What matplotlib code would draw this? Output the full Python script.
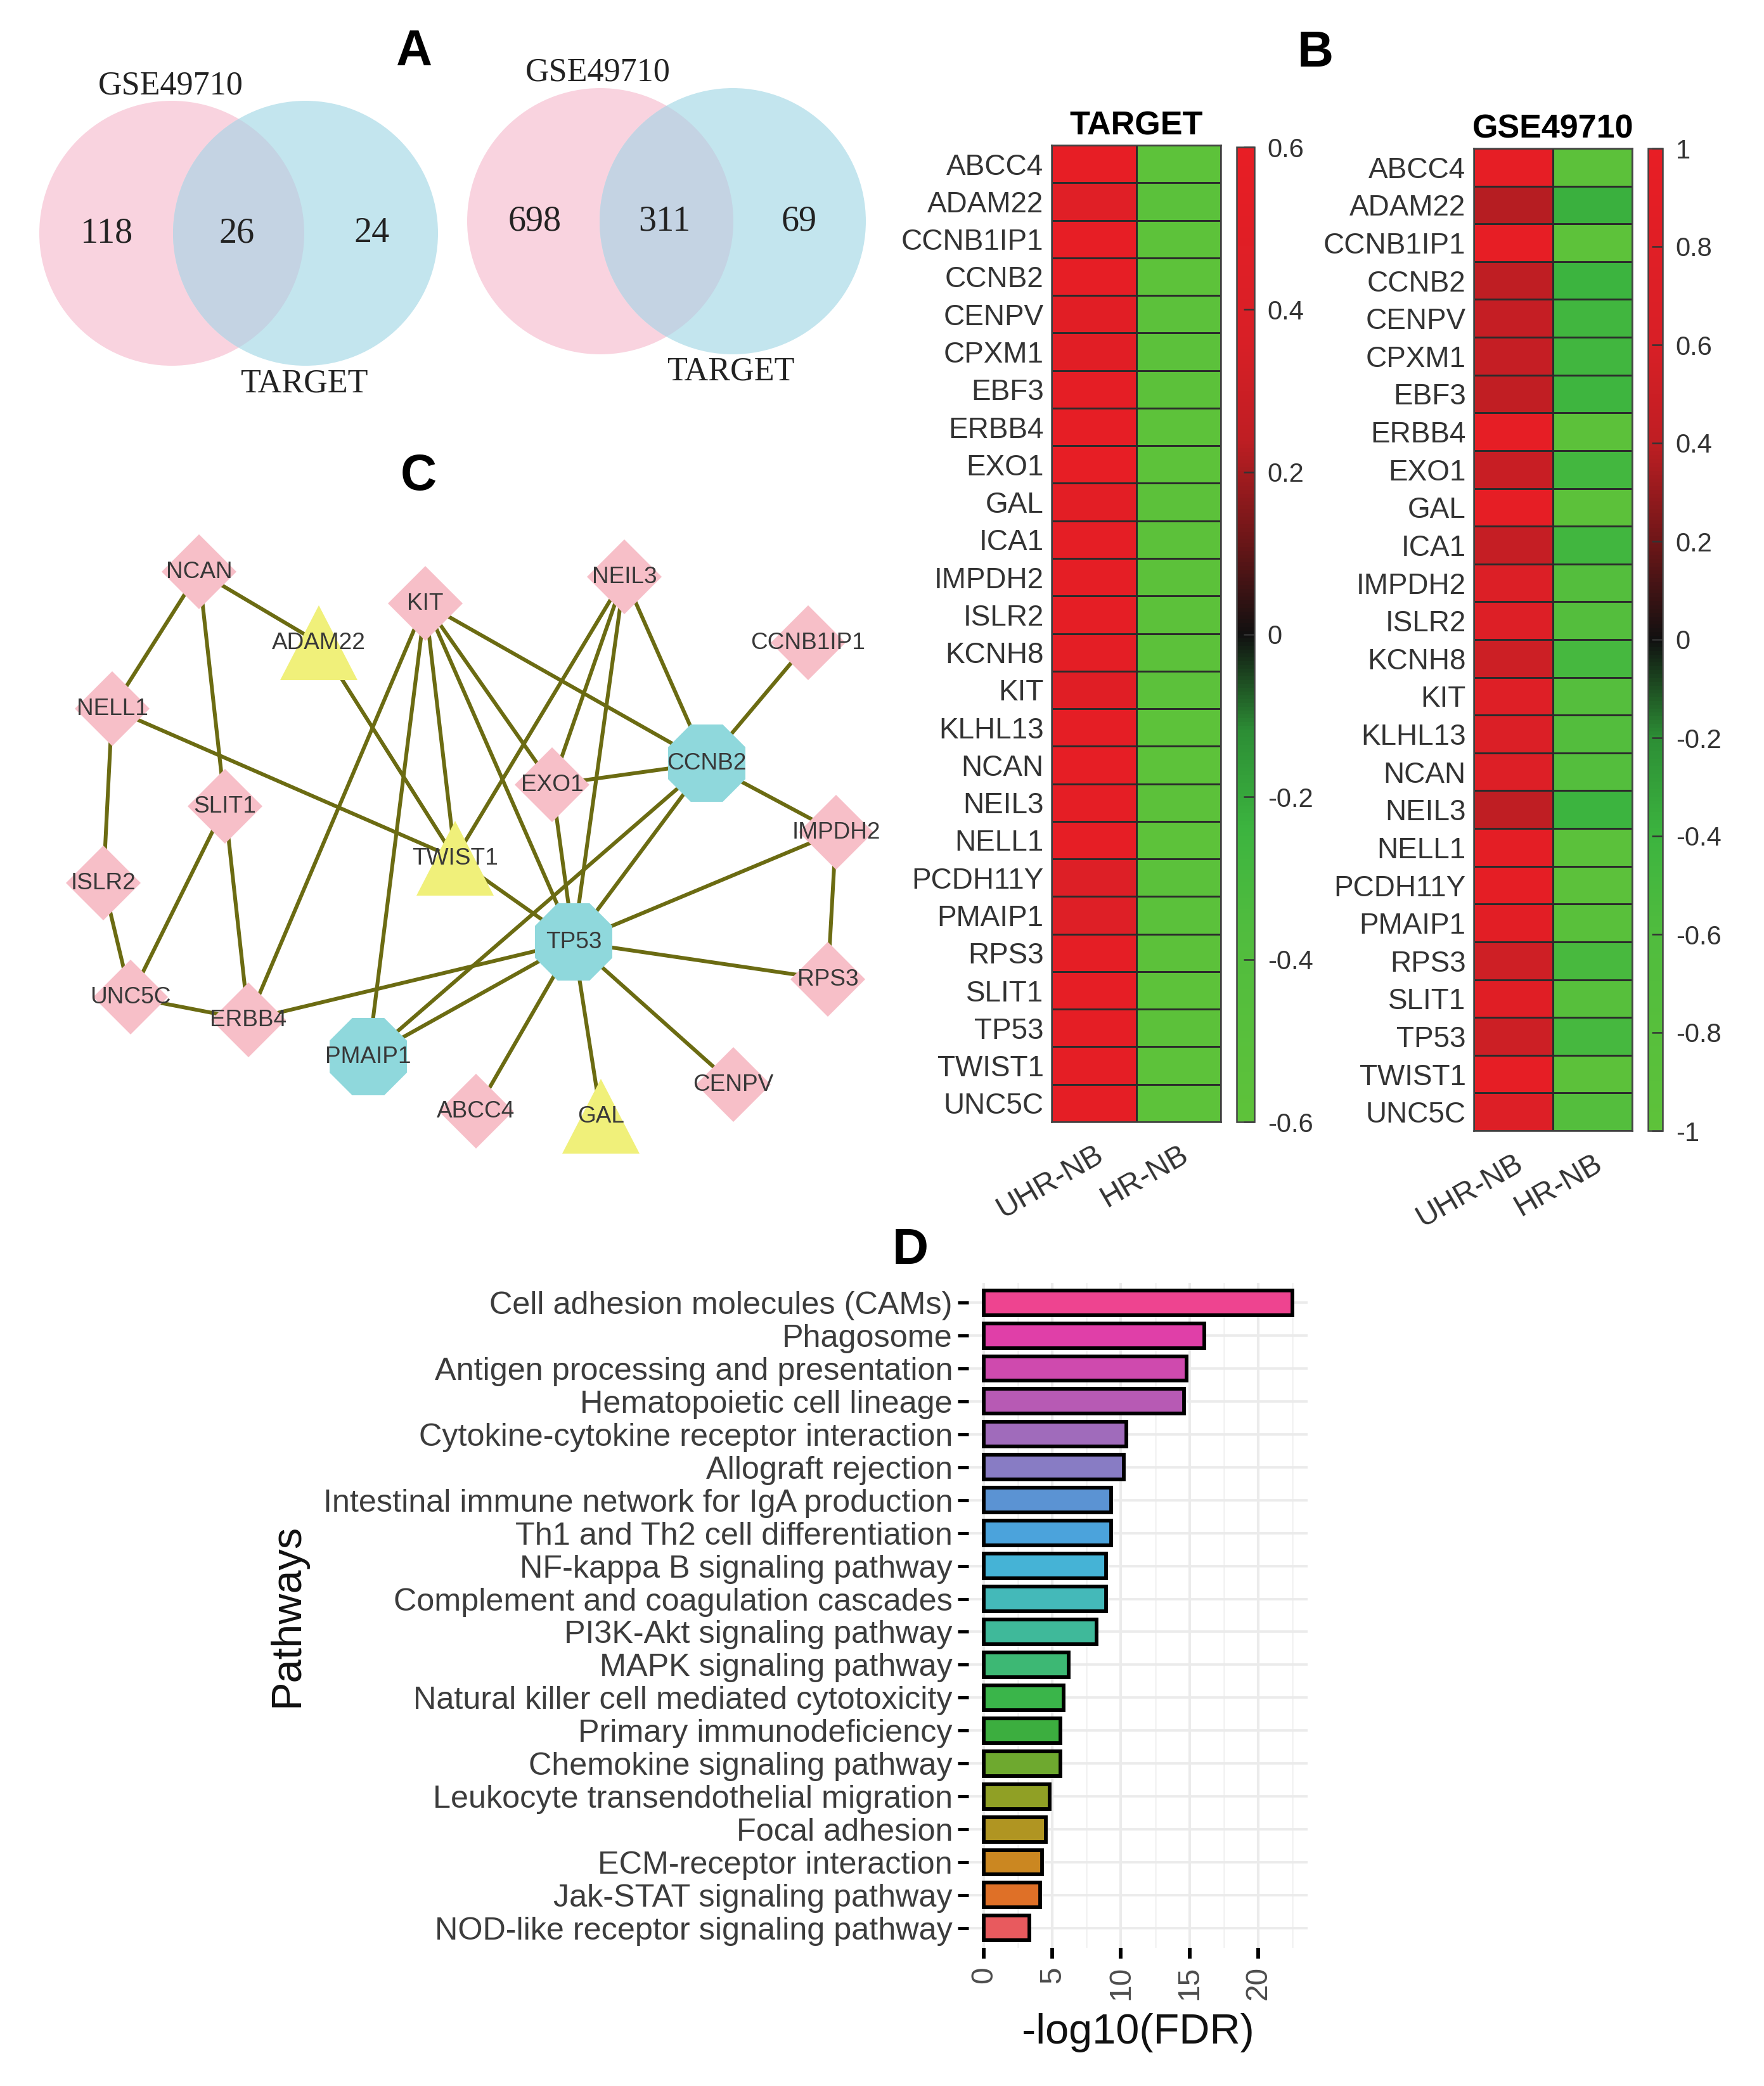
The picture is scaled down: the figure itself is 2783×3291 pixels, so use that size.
import numpy as np
import matplotlib
matplotlib.use('Agg')
import matplotlib.pyplot as plt
from matplotlib.colors import LinearSegmentedColormap
from matplotlib.patches import Circle, RegularPolygon, Polygon

plt.rcParams['font.family'] = ['Liberation Sans', 'DejaVu Sans']
plt.rcParams['axes.unicode_minus'] = False

W, H = 2783, 3291

# ---- A: Venn diagrams ----
venn_top = ['GSE49710', 'GSE49710']
venn_bottom = ['TARGET', 'TARGET']
venn_counts = [[118, 26, 24], [698, 311, 69]]

# ---- B: heatmaps ----
genes = ['ABCC4', 'ADAM22', 'CCNB1IP1', 'CCNB2', 'CENPV', 'CPXM1', 'EBF3', 'ERBB4',
         'EXO1', 'GAL', 'ICA1', 'IMPDH2', 'ISLR2', 'KCNH8', 'KIT', 'KLHL13', 'NCAN',
         'NEIL3', 'NELL1', 'PCDH11Y', 'PMAIP1', 'RPS3', 'SLIT1', 'TP53', 'TWIST1', 'UNC5C']
groups = ['UHR-NB', 'HR-NB']
target_uhr = [0.58, 0.47, 0.58, 0.57, 0.50, 0.50, 0.55, 0.57, 0.58, 0.52, 0.55, 0.55, 0.55,
              0.54, 0.48, 0.56, 0.57, 0.56, 0.57, 0.44, 0.45, 0.55, 0.57, 0.55, 0.56, 0.56]
target_hr = [-0.58, -0.55, -0.58, -0.58, -0.56, -0.56, -0.57, -0.58, -0.58, -0.57, -0.57,
             -0.57, -0.57, -0.57, -0.56, -0.58, -0.58, -0.57, -0.58, -0.55, -0.55, -0.57,
             -0.58, -0.57, -0.58, -0.58]
gse_uhr = [0.95, 0.38, 0.97, 0.40, 0.45, 0.45, 0.42, 0.95, 0.47, 0.95, 0.45, 0.70, 0.72,
           0.50, 0.75, 0.68, 0.72, 0.40, 0.90, 0.93, 0.85, 0.52, 0.80, 0.50, 0.95, 0.72]
gse_hr = [-v for v in gse_uhr]

# ---- C: PPI network ----
node_shape = {'NCAN': 'diamond', 'KIT': 'diamond', 'NEIL3': 'diamond', 'ADAM22': 'triangle',
              'CCNB1IP1': 'diamond', 'NELL1': 'diamond', 'CCNB2': 'octagon', 'EXO1': 'diamond',
              'SLIT1': 'diamond', 'IMPDH2': 'diamond', 'TWIST1': 'triangle', 'ISLR2': 'diamond',
              'TP53': 'octagon', 'RPS3': 'diamond', 'UNC5C': 'diamond', 'ERBB4': 'diamond',
              'PMAIP1': 'octagon', 'CENPV': 'diamond', 'ABCC4': 'diamond', 'GAL': 'triangle'}
edges = [('NCAN', 'NELL1'), ('NCAN', 'SLIT1'), ('NCAN', 'ADAM22'), ('NELL1', 'ISLR2'),
         ('NELL1', 'TWIST1'), ('ISLR2', 'UNC5C'), ('SLIT1', 'UNC5C'), ('SLIT1', 'ERBB4'),
         ('UNC5C', 'ERBB4'), ('ADAM22', 'TWIST1'), ('KIT', 'ERBB4'), ('KIT', 'PMAIP1'),
         ('KIT', 'TWIST1'), ('KIT', 'TP53'), ('KIT', 'EXO1'), ('KIT', 'CCNB2'),
         ('NEIL3', 'TWIST1'), ('NEIL3', 'EXO1'), ('NEIL3', 'TP53'), ('NEIL3', 'CCNB2'),
         ('CCNB1IP1', 'CCNB2'), ('CCNB2', 'EXO1'), ('CCNB2', 'IMPDH2'), ('CCNB2', 'TP53'),
         ('CCNB2', 'PMAIP1'), ('EXO1', 'TP53'), ('TWIST1', 'TP53'), ('IMPDH2', 'TP53'),
         ('IMPDH2', 'RPS3'), ('TP53', 'RPS3'), ('TP53', 'ERBB4'), ('TP53', 'CENPV'),
         ('TP53', 'ABCC4'), ('TP53', 'GAL'), ('TP53', 'PMAIP1')]

# ---- D: KEGG enrichment ----
pathways = ['Cell adhesion molecules (CAMs)', 'Phagosome', 'Antigen processing and presentation',
            'Hematopoietic cell lineage', 'Cytokine-cytokine receptor interaction',
            'Allograft rejection', 'Intestinal immune network for IgA production',
            'Th1 and Th2 cell differentiation', 'NF-kappa B signaling pathway',
            'Complement and coagulation cascades', 'PI3K-Akt signaling pathway',
            'MAPK signaling pathway', 'Natural killer cell mediated cytotoxicity',
            'Primary immunodeficiency', 'Chemokine signaling pathway',
            'Leukocyte transendothelial migration', 'Focal adhesion', 'ECM-receptor interaction',
            'Jak-STAT signaling pathway', 'NOD-like receptor signaling pathway']
neg_log10_fdr = [22.5, 16.1, 14.8, 14.6, 10.4, 10.2, 9.3, 9.3, 8.9, 8.9,
                 8.2, 6.2, 5.8, 5.6, 5.6, 4.8, 4.5, 4.25, 4.1, 3.3]
bar_colors = ['#EE4490', '#E03FA8', '#CF4AAE', '#B75AB4', '#A06BBB', '#887CC4', '#5B93D3',
              '#4BA3DC', '#45B3D6', '#44B9B9', '#3FB99A', '#3DB874', '#3AB54A', '#3CAE3F',
              '#6EA92F', '#90A025', '#B09522', '#CB8721', '#DF7027', '#E85A5E']

# layout (pixel coordinates of the original figure, y downward)
venn_layout = [dict(c1=(271, 368), c2=(482, 368), r=209, top=(269, 135), bottom=(480, 605)),
               dict(c1=(947, 349), c2=(1156, 349), r=210, top=(943, 114), bottom=(1153, 586))]
node_xy = {'NCAN': (314, 902), 'KIT': (671, 952), 'NEIL3': (985, 910), 'ADAM22': (503, 1014),
           'CCNB1IP1': (1275, 1014), 'NELL1': (177, 1118), 'CCNB2': (1115, 1204),
           'EXO1': (871, 1238), 'SLIT1': (355, 1272), 'IMPDH2': (1319, 1313),
           'TWIST1': (718, 1354), 'ISLR2': (163, 1393), 'TP53': (905, 1486), 'RPS3': (1306, 1545),
           'UNC5C': (206, 1573), 'ERBB4': (392, 1609), 'PMAIP1': (581, 1667),
           'CENPV': (1157, 1711), 'ABCC4': (751, 1753), 'GAL': (948, 1761)}

fig = plt.figure(figsize=(W / 300, H / 300), dpi=300)
canvas = fig.add_axes([0, 0, 1, 1])
canvas.set_xlim(0, W)
canvas.set_ylim(H, 0)
canvas.axis('off')

# Venn
for lay, counts, t_top, t_bot in zip(venn_layout, venn_counts, venn_top, venn_bottom):
    r = lay['r']
    p1 = Circle(lay['c1'], r, fc='#F9D3DF', ec='none', zorder=1)
    p2 = Circle(lay['c2'], r, fc='#C3E5EE', ec='none', zorder=2)
    inter = Circle(lay['c1'], r, fc='#C4D3E3', ec='none', zorder=3)
    canvas.add_patch(p1)
    canvas.add_patch(p2)
    canvas.add_patch(inter)
    inter.set_clip_path(p2)
    xs = [lay['c1'][0] - 0.49 * r, (lay['c1'][0] + lay['c2'][0]) / 2 - 3, lay['c2'][0] + 0.5 * r]
    for x, n in zip(xs, counts):
        canvas.text(x, lay['c1'][1], str(n), ha='center', va='center', fontsize=13.5,
                    family='Liberation Serif', color='#222222', zorder=4)
    canvas.text(*lay['top'], t_top, ha='center', va='center', fontsize=12.5,
                family='Liberation Serif', color='#222222')
    canvas.text(*lay['bottom'], t_bot, ha='center', va='center', fontsize=12.5,
                family='Liberation Serif', color='#222222')

# network
for a, b in edges:
    (x1, y1), (x2, y2) = node_xy[a], node_xy[b]
    canvas.plot([x1, x2], [y1, y2], color='#6B6B12', lw=1.45, zorder=5, solid_capstyle='butt')
for name, shape in node_shape.items():
    x, y = node_xy[name]
    if shape == 'diamond':
        p = RegularPolygon((x, y), numVertices=4, radius=59, orientation=0,
                           fc='#F7BFC8', ec='none', zorder=6)
    elif shape == 'octagon':
        p = RegularPolygon((x, y), numVertices=8, radius=66, orientation=np.pi / 8,
                           fc='#8FD8DC', ec='none', zorder=6)
    else:
        p = Polygon([(x, y - 59), (x - 61, y + 59), (x + 61, y + 59)], closed=True,
                    fc='#F0F07A', ec='none', zorder=6)
    canvas.add_patch(p)
    canvas.text(x, y, name, ha='center', va='center', fontsize=8.9, color='#383838', zorder=7)

# panel letters
for letter, (x, y) in zip('ABCD', [(653, 82), (2075, 84), (660, 752), (1436, 1973)]):
    canvas.text(x, y, letter, ha='center', va='center', fontsize=19, fontweight='bold')

# heatmaps
cmap = LinearSegmentedColormap.from_list('gkr', [
    (0.00, '#5EC23A'), (0.20, '#50BC3E'), (0.30, '#3CB43F'), (0.40, '#2C8E35'),
    (0.50, '#101010'), (0.60, '#6E1618'), (0.70, '#BE1E23'), (0.80, '#D81F26'),
    (1.00, '#E81E25')])


def px_rect(x0, y0, x1, y1):
    return [x0 / W, 1 - y1 / H, (x1 - x0) / W, (y1 - y0) / H]


def draw_heat(rect, crect, uhr, hr, vlim, ticks, title):
    ax = fig.add_axes(rect)
    data = np.column_stack([uhr, hr])
    mesh = ax.pcolormesh(data, cmap=cmap, vmin=-vlim, vmax=vlim,
                         edgecolors='#2B2B2B', linewidth=0.6)
    ax.set_xlim(0, 2)
    ax.set_ylim(len(genes), 0)
    ax.set_yticks(np.arange(len(genes)) + 0.5, genes, fontsize=11, color='#333333')
    ax.set_xticks([0.5, 1.5], groups, rotation=30, ha='right', rotation_mode='anchor',
                  fontsize=11.5, color='#333333')
    ax.tick_params(length=0)
    ax.tick_params(axis='y', pad=3)
    ax.tick_params(axis='x', pad=7)
    for s in ax.spines.values():
        s.set_linewidth(0.6)
        s.set_color('#444444')
    ax.set_title(title, fontsize=12.5, fontweight='bold', pad=4)
    cax = fig.add_axes(crect)
    cb = fig.colorbar(mesh, cax=cax, ticks=ticks)
    cb.ax.set_yticklabels([f'{t:g}' for t in np.round(ticks, 2)])
    cb.ax.tick_params(direction='in', length=4, width=0.6, color='#333333',
                      labelsize=10, pad=5, labelcolor='#333333')
    cb.outline.set_linewidth(0.6)
    cb.outline.set_edgecolor('#444444')


draw_heat(px_rect(1659, 229, 1926, 1770), px_rect(1951, 232, 1979, 1770),
          target_uhr, target_hr, 0.6, np.linspace(-0.6, 0.6, 7), 'TARGET')
draw_heat(px_rect(2325, 234, 2575, 1784), px_rect(2600, 234, 2623, 1784),
          gse_uhr, gse_hr, 1.0, np.linspace(-1, 1, 11), 'GSE49710')

# bar chart
axb = fig.add_axes(px_rect(1528, 2024, 2063, 3073))
yy = np.arange(len(pathways))
axb.barh(yy, neg_log10_fdr, height=0.75, color=bar_colors, edgecolor='black',
         linewidth=1.4, zorder=3)
xmax = max(neg_log10_fdr)
axb.set_xlim(-0.05 * xmax, 1.05 * xmax)
axb.set_ylim(len(pathways) - 0.4, -0.6)
axb.set_yticks(yy, pathways)
axb.set_xticks([0, 5, 10, 15, 20])
axb.set_xticks(np.arange(2.5, 25, 5), minor=True)
axb.grid(axis='x', which='major', color='#EBEBEB', lw=1.0, zorder=0)
axb.grid(axis='x', which='minor', color='#F2F2F2', lw=0.6, zorder=0)
axb.grid(axis='y', which='major', color='#EBEBEB', lw=0.9, zorder=0)
axb.set_axisbelow(True)
for s in axb.spines.values():
    s.set_visible(False)
axb.tick_params(axis='y', length=4, width=1.2, color='black', labelsize=12.1,
                labelcolor='#3C3C3C', pad=2)
axb.tick_params(axis='x', which='major', length=4, width=1.4, color='black', labelsize=11.5,
                labelcolor='#4D4D4D', labelrotation=90, pad=3)
axb.tick_params(axis='x', which='minor', length=0)
axb.set_xlabel('-log10(FDR)', fontsize=16, labelpad=5, color='#111111')
axb.set_ylabel('Pathways', fontsize=16, labelpad=6, color='#111111')

fig.savefig('out.png', dpi=300)
